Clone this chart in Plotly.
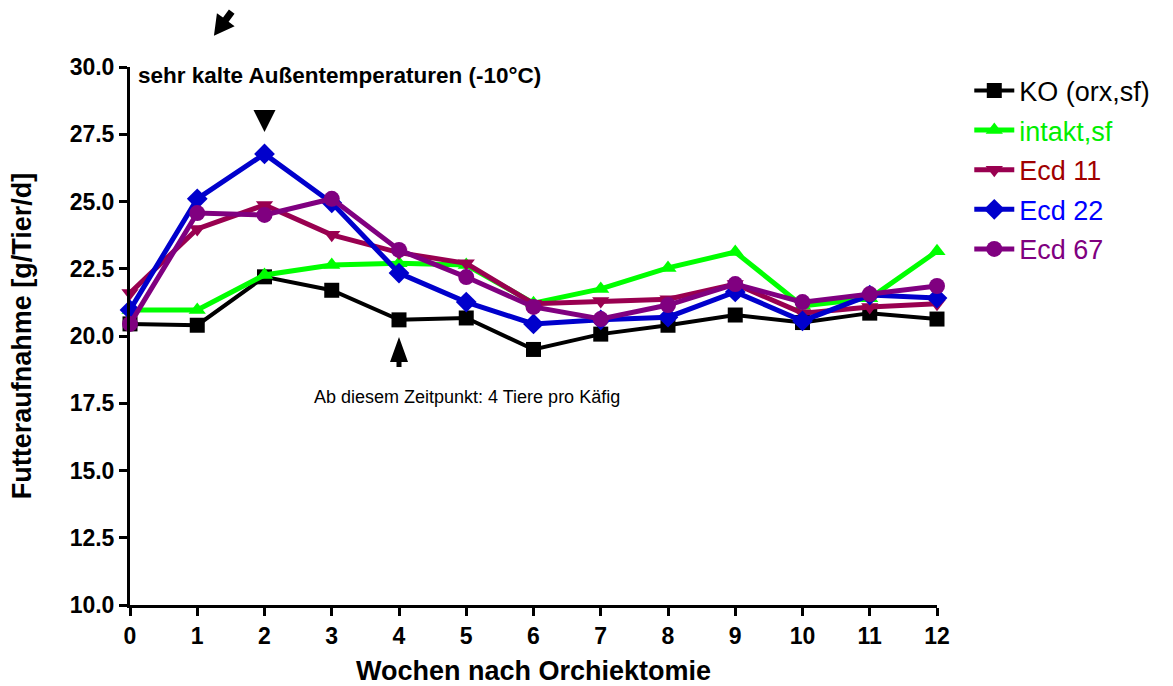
import plotly.graph_objects as go

# Weekly food intake per group (g/animal/day)
weeks = list(range(13))
week_labels = [str(w) for w in weeks]
y_ticks = [10.0, 12.5, 15.0, 17.5, 20.0, 22.5, 25.0, 27.5, 30.0]

ko_orx_sf = [20.45, 20.4, 22.2, 21.7, 20.6, 20.67, 19.5, 20.07, 20.4, 20.78, 20.5, 20.85, 20.63]
intakt_sf = [20.97, 20.97, 22.27, 22.64, 22.7, 22.64, 21.22, 21.75, 22.53, 23.12, 21.12, 21.4, 23.15]
ecd_11 = [21.6, 23.98, 24.87, 23.76, 23.1, 22.7, 21.2, 21.3, 21.37, 21.93, 20.85, 21.08, 21.2]
ecd_22 = [20.97, 25.1, 26.77, 24.95, 22.34, 21.26, 20.45, 20.6, 20.7, 21.64, 20.56, 21.52, 21.41]
ecd_67 = [20.45, 24.57, 24.5, 25.1, 23.2, 22.19, 21.08, 20.63, 21.15, 21.93, 21.26, 21.56, 21.86]

series = [
    ("KO (orx,sf)", ko_orx_sf, "#000000", "#000000", "square", 4, 15),
    ("intakt,sf", intakt_sf, "#00FF00", "#00EE00", "triangle-up", 5, 15),
    ("Ecd 11", ecd_11, "#990050", "#A00000", "triangle-down", 5, 15),
    ("Ecd 22", ecd_22, "#0000CC", "#0000FF", "diamond", 5, 16),
    ("Ecd 67", ecd_67, "#800080", "#800080", "circle", 5, 16),
]

FONT = "Liberation Sans, Arial, sans-serif"

fig = go.Figure()
for i, (name, vals, color, txt_color, symbol, lw, ms) in enumerate(series):
    fig.add_trace(go.Scatter(
        x=weeks, y=vals, mode="lines+markers",
        name=f"<span style='color:{txt_color}'>{name}</span>",
        legendgroup=f"g{i}",
        line=dict(color=color, width=lw),
        marker=dict(symbol=symbol, size=ms, color=color, line=dict(width=0)),
        cliponaxis=False,
    ))

fig.update_layout(
    width=1173, height=686,
    margin=dict(l=130, r=236, t=67, b=81),
    paper_bgcolor="white", plot_bgcolor="white",
    font=dict(family=FONT, color="black"),
    showlegend=True,
    legend=dict(
        x=1.04, y=1.001, xanchor="left", yanchor="top",
        font=dict(family=FONT, size=27),
        tracegroupgap=1.5, itemwidth=40,
        bgcolor="rgba(0,0,0,0)",
    ),
    xaxis=dict(
        range=[0, 12], tickvals=weeks, ticktext=week_labels,
        showgrid=False, zeroline=False, automargin=False,
        showline=True, linecolor="black", linewidth=3,
        ticks="outside", ticklen=8, tickwidth=3, tickcolor="black",
        tickfont=dict(family=FONT, size=23, weight="bold"),
        title=dict(text="Wochen nach Orchiektomie",
                   font=dict(family=FONT, size=27, weight="bold"), standoff=15),
    ),
    yaxis=dict(
        range=[10, 30], tickvals=y_ticks, ticktext=[f"{v:.1f}" for v in y_ticks],
        showgrid=False, zeroline=False, automargin=False,
        showline=True, linecolor="black", linewidth=3,
        ticks="outside", ticklen=8, tickwidth=3, tickcolor="black",
        tickfont=dict(family=FONT, size=23, weight="bold"),
        title=dict(text="Futteraufnahme [g/Tier/d]",
                   font=dict(family=FONT, size=27, weight="bold"), standoff=31),
    ),
)

# Text notes
fig.add_annotation(
    x=0.008, y=0.984, xref="paper", yref="paper", xanchor="left", yanchor="middle",
    text="<b>sehr kalte Außentemperaturen (-10°C)</b>",
    showarrow=False, font=dict(family=FONT, size=22.5, color="black"),
)
fig.add_annotation(
    x=0.418, y=0.387, xref="paper", yref="paper", xanchor="center", yanchor="middle",
    text="Ab diesem Zeitpunkt: 4 Tiere pro Käfig",
    showarrow=False, font=dict(family=FONT, size=18, color="black"),
)

# Pointer glyphs, sized in pixels around their anchor point
pointer = dict(type="path", xsizemode="pixel", ysizemode="pixel",
               fillcolor="black", line=dict(width=0), layer="above")
# downward marker above week 2
fig.add_shape(**pointer, xref="x", yref="y", xanchor=2, yanchor=27.58,
              path="M0,0 L-11,22 L11,22 Z")
# upward arrow below week 4
fig.add_shape(**pointer, xref="x", yref="y", xanchor=4, yanchor=19.96,
              path="M0,0 L9,-25 L2.5,-25 L2.5,-30 L-2.5,-30 L-2.5,-25 L-9,-25 Z")
# slanted arrow above the plot
fig.add_shape(**pointer, xref="paper", yref="paper", xanchor=0.104, yanchor=1.058,
              path="M0,0 L20.7,9.6 L14.7,14.0 L20.6,22.0 L15.0,26.2 L9.1,18.2 L3.0,22.6 Z")

fig.write_html("out.html")
